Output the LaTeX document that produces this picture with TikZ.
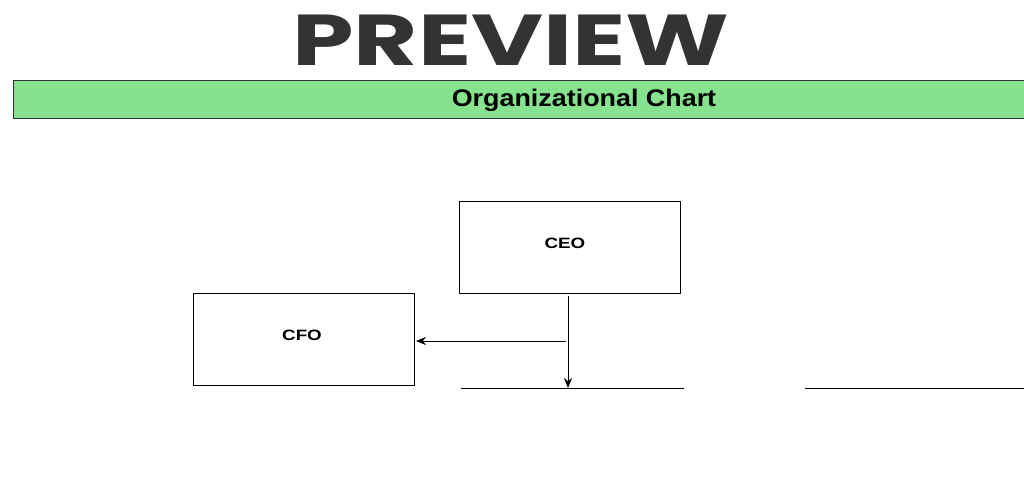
\documentclass[tikz,border=0pt]{standalone}
\usepackage{fontspec}
\setmainfont{Liberation Sans}
\newfontfamily\pop{Poppins}
\usetikzlibrary{arrows.meta}
\begin{document}
\begin{tikzpicture}[x=1pt,y=-1pt,
  box/.style={draw=black,line width=0.8pt,minimum width=221pt,minimum height=92pt,anchor=north west,inner sep=0pt},
  lbl/.style={font=\bfseries\fontsize{15}{17}\selectfont,xscale=1.25},
  arr/.style={draw=black,line width=0.8pt,-{Stealth[length=10pt,width=8pt]}}]
\useasboundingbox (0,0) rectangle (1024,500);
\node[font=\pop\bfseries\fontsize{72}{74}\selectfont,text=black!80,xscale=1.37,inner sep=0pt] (pv) at (511,40) {PREVIEW};
\node[draw=black!80,fill={rgb,255:red,134;green,226;blue,143},line width=0.8pt,minimum width=1020pt,minimum height=38pt,anchor=north west,inner sep=0pt] (bar) at (13,80) {};
\node[font=\bfseries\fontsize{24}{26}\selectfont,xscale=1.12] (title) at (584,100) {Organizational Chart};
\node[box] (ceo) at (459,201) {};
\node[lbl] at (565,243) {CEO};
\node[box] (cfo) at (193,293) {};
\node[lbl] at (302,335) {CFO};
\coordinate (top) at (568,296);
\coordinate (bot) at (568,388);
\coordinate (mid) at (566,341);
\coordinate (cfoe) at (416,341);
\draw[arr] (top) -- (bot);
\draw[arr] (mid) -- (cfoe);
\coordinate (l1a) at (461,388); \coordinate (l1b) at (684,388);
\coordinate (l2a) at (805,388); \coordinate (l2b) at (1024,388);
\draw[line width=0.8pt] (l1a) -- (l1b);
\draw[line width=0.8pt] (l2a) -- (l2b);
\end{tikzpicture}
\end{document}
